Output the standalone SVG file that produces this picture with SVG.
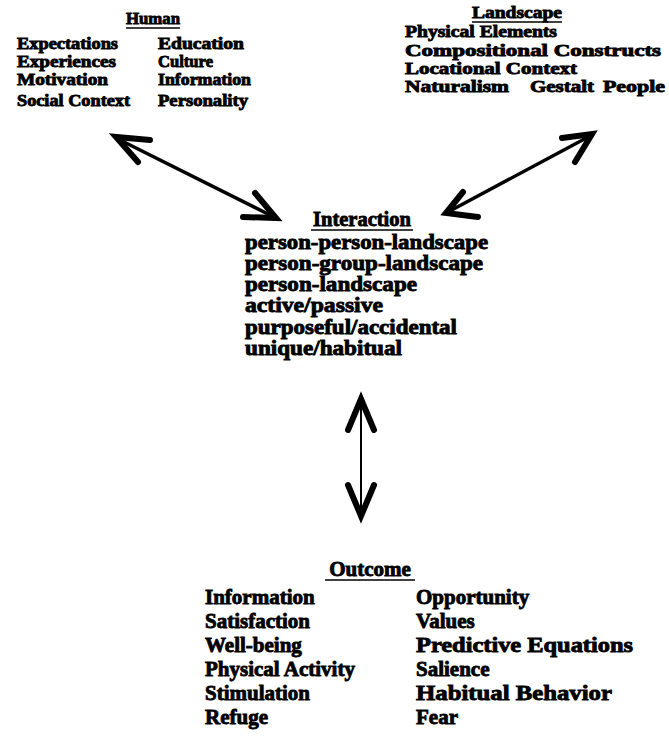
<svg xmlns="http://www.w3.org/2000/svg" width="669" height="737" viewBox="0 0 669 737">
<style>
text{font-family:"Liberation Serif","Times New Roman",serif;font-weight:bold;fill:#000;stroke:#000;stroke-width:0.85}
.s{font-size:16.5px}
.m{font-size:20.5px}
.o{font-size:21px}
.h{text-anchor:middle}
.ul{stroke:#000;stroke-width:1.6}
.shaft{fill:none;stroke:#000;stroke-width:3.5;stroke-linecap:round}
.head{fill:none;stroke:#000;stroke-width:6;stroke-linecap:round;stroke-linejoin:miter}
</style>
<rect width="669" height="737" fill="#fff"/>
<g id="human">
<text class="s h" x="153" y="24" textLength="54" lengthAdjust="spacingAndGlyphs">Human</text>
<line class="ul" x1="126" y1="28" x2="180" y2="28"/>
<text class="s" x="17" y="49" textLength="101" lengthAdjust="spacingAndGlyphs">Expectations</text>
<text class="s" x="158" y="49" textLength="86" lengthAdjust="spacingAndGlyphs">Education</text>
<text class="s" x="17" y="67" textLength="99" lengthAdjust="spacingAndGlyphs">Experiences</text>
<text class="s" x="158" y="67" textLength="55" lengthAdjust="spacingAndGlyphs">Culture</text>
<text class="s" x="17" y="85" textLength="91" lengthAdjust="spacingAndGlyphs">Motivation</text>
<text class="s" x="158" y="85" textLength="93" lengthAdjust="spacingAndGlyphs">Information</text>
<text class="s" x="17" y="106" textLength="113" lengthAdjust="spacingAndGlyphs">Social Context</text>
<text class="s" x="158" y="106" textLength="90" lengthAdjust="spacingAndGlyphs">Personality</text>
</g>
<g id="landscape">
<text class="s h" x="517" y="18" textLength="90" lengthAdjust="spacingAndGlyphs">Landscape</text>
<line class="ul" x1="472" y1="22" x2="562" y2="22"/>
<text class="s" x="405" y="37" textLength="152" lengthAdjust="spacingAndGlyphs">Physical Elements</text>
<text class="s" x="405" y="56" textLength="256" lengthAdjust="spacingAndGlyphs">Compositional Constructs</text>
<text class="s" x="405" y="74" textLength="172" lengthAdjust="spacingAndGlyphs">Locational Context</text>
<text class="s" x="405" y="92" textLength="104" lengthAdjust="spacingAndGlyphs">Naturalism</text>
<text class="s" x="530" y="92" textLength="64" lengthAdjust="spacingAndGlyphs">Gestalt</text>
<text class="s" x="603" y="92" textLength="62" lengthAdjust="spacingAndGlyphs">People</text>
</g>
<g id="interaction">
<text class="m h" x="362" y="226">Interaction</text>
<line class="ul" x1="311" y1="230" x2="413" y2="230"/>
<text class="m" x="245" y="249" textLength="243" lengthAdjust="spacingAndGlyphs">person-person-landscape</text>
<text class="m" x="245" y="270" textLength="238" lengthAdjust="spacingAndGlyphs">person-group-landscape</text>
<text class="m" x="245" y="291" textLength="172" lengthAdjust="spacingAndGlyphs">person-landscape</text>
<text class="m" x="245" y="312" textLength="138" lengthAdjust="spacingAndGlyphs">active/passive</text>
<text class="m" x="245" y="334" textLength="212" lengthAdjust="spacingAndGlyphs">purposeful/accidental</text>
<text class="m" x="245" y="355" textLength="157" lengthAdjust="spacingAndGlyphs">unique/habitual</text>
</g>
<g id="outcome">
<text class="o h" x="370" y="576">Outcome</text>
<line class="ul" x1="325" y1="580" x2="415" y2="580"/>
<text class="o" x="205" y="604">Information</text>
<text class="o" x="205" y="628">Satisfaction</text>
<text class="o" x="205" y="652">Well-being</text>
<text class="o" x="205" y="676">Physical Activity</text>
<text class="o" x="205" y="700">Stimulation</text>
<text class="o" x="205" y="724">Refuge</text>
<text class="o" x="416" y="604">Opportunity</text>
<text class="o" x="416" y="628">Values</text>
<text class="o" x="416" y="652" textLength="217" lengthAdjust="spacingAndGlyphs">Predictive Equations</text>
<text class="o" x="416" y="676">Salience</text>
<text class="o" x="416" y="700" textLength="196" lengthAdjust="spacingAndGlyphs">Habitual Behavior</text>
<text class="o" x="416" y="724">Fear</text>
</g>
<g id="connectors">
<line class="shaft" x1="118" y1="139" x2="274" y2="217"/>
<polyline class="head" points="150,140 116,137 138,162"/>
<polyline class="head" points="243,217 276,218 255,193"/>
<line class="shaft" x1="590" y1="136" x2="448" y2="212"/>
<polyline class="head" points="562,138 592,134 575,162"/>
<polyline class="head" points="463,192 446,213 478,217"/>
<line style="fill:none;stroke:#000;stroke-width:2" x1="361" y1="400" x2="361" y2="515"/>
<polyline class="head" points="348,430 361,399 374,430"/>
<polyline class="head" points="348,485 361,516 374,485"/>
</g>
</svg>
